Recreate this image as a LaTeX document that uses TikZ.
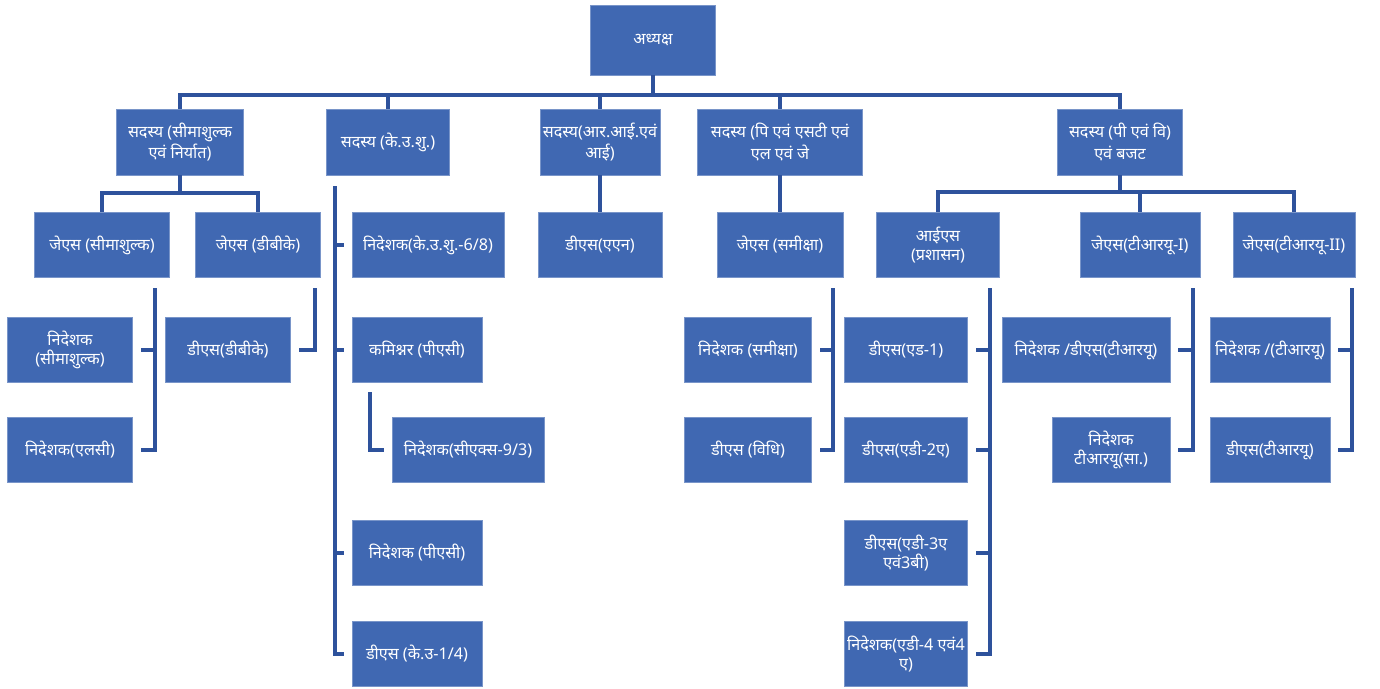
\documentclass[tikz,border=0pt]{standalone}
\usepackage{fontspec}
\newfontfamily\hindi[Script=Devanagari]{Noto Sans}
\definecolor{boxblue}{RGB}{64,104,178}
\definecolor{lineblue}{RGB}{46,82,156}

\begin{document}
\begin{tikzpicture}[x=0.25mm,y=-0.25mm,
  box/.style={fill=boxblue,draw=boxblue!70!white,line width=0.4pt,text=white,align=center,
    font=\hindi\fontsize{11.5}{14}\selectfont,minimum height=16.25mm,inner sep=0.5mm},
  head/.style={box,font=\hindi\bfseries\fontsize{11.5}{15}\selectfont,minimum height=16.5mm},
  wd/.style={minimum width=#1*0.25mm},
  link/.style={lineblue,line width=1mm},
  side/.style={link,shorten >=2mm}]
\useasboundingbox (0,0) rectangle (1380,688);
% top
\node[head,wd=125,minimum height=17.5mm] (top) at (653,40) {अध्यक्ष};
\node[head,wd=127] (A) at (180,142) {सदस्य (सीमाशुल्क\\एवं निर्यात)};
\node[head,wd=123] (B) at (388,142) {सदस्य (के.उ.शु.)};
\node[head,wd=120] (C) at (600,142) {सदस्य(आर.आई.एवं\\आई)};
\node[head,wd=165] (D) at (780,142) {सदस्य (पि एवं एसटी एवं\\एल एवं जे};
\node[head,wd=125] (E) at (1120,142) {सदस्य (पी एवं वि)\\एवं बजट};
% second row
\node[box,wd=135] (A1) at (102,245) {जेएस (सीमाशुल्क)};
\node[box,wd=125] (A2) at (258,245) {जेएस (डीबीके)};
\node[box,wd=152] (B1) at (428,245) {निदेशक(के.उ.शु.-6/8)};
\node[box,wd=124] (C1) at (600,245) {डीएस(एएन)};
\node[box,wd=126] (D1) at (780,245) {जेएस (समीक्षा)};
\node[box,wd=123] (E1) at (938,245) {आईएस\\(प्रशासन)};
\node[box,wd=120] (E2) at (1140,245) {जेएस(टीआरयू-I)};
\node[box,wd=122] (E3) at (1294,245) {जेएस(टीआरयू-II)};
% third row
\node[box,wd=125] (A11) at (70,350) {निदेशक\\(सीमाशुल्क)};
\node[box,wd=125] (A21) at (228,350) {डीएस(डीबीके)};
\node[box,wd=130] (B2) at (417,350) {कमिश्नर (पीएसी)};
\node[box,wd=127] (D11) at (748,350) {निदेशक (समीक्षा)};
\node[box,wd=123] (E11) at (906,350) {डीएस(एड-1)};
\node[box,wd=168] (E21) at (1086,350) {निदेशक /डीएस(टीआरयू)};
\node[box,wd=120] (E31) at (1270,350) {निदेशक /(टीआरयू)};
% fourth row
\node[box,wd=125] (A12) at (70,450) {निदेशक(एलसी)};
\node[box,wd=152] (B21) at (468,450) {निदेशक(सीएक्स-9/3)};
\node[box,wd=127] (D12) at (748,450) {डीएस (विधि)};
\node[box,wd=123] (E12) at (906,450) {डीएस(एडी-2ए)};
\node[box,wd=118] (E22) at (1111,450) {निदेशक\\टीआरयू(सा.)};
\node[box,wd=120] (E32) at (1270,450) {डीएस(टीआरयू)};
% lower rows
\node[box,wd=130] (B3) at (417,553) {निदेशक (पीएसी)};
\node[box,wd=123] (E13) at (906,553) {डीएस(एडी-3ए\\एवं3बी)};
\node[box,wd=130] (B4) at (417,654) {डीएस (के.उ-1/4)};
\node[box,wd=123] (E14) at (906,654) {निदेशक(एडी-4 एवं4\\ए)};

\coordinate (bus) at (653,95);
\coordinate (busA) at (180,193);
\coordinate (busE) at (1120,192);
\coordinate (jA1) at (155,288);
\coordinate (jA2) at (315,288);
\coordinate (jB) at (335,186);
\coordinate (jB2) at (370,392);
\coordinate (jD1) at (833,288);
\coordinate (jE1) at (990,288);
\coordinate (jE2) at (1193,288);
\coordinate (jE3) at (1352,288);

\draw[link] (top) -- (bus);
\foreach \n in {A,B,C,D,E} \draw[link] (bus) -| (\n.north);
\draw[link] (A) -- (busA);
\foreach \n in {A1,A2} \draw[link] (busA) -| (\n.north);
\draw[link] (E) -- (busE);
\foreach \n in {E1,E2,E3} \draw[link] (busE) -| (\n.north);
\draw[link] (C) -- (C1);
\draw[link] (D) -- (D1);
\foreach \n in {A11,A12} \draw[side] (jA1) |- (\n.east);
\draw[side] (jA2) |- (A21.east);
\foreach \n in {B1,B2,B3,B4} \draw[side] (jB) |- (\n.west);
\draw[side] (jB2) |- (B21.west);
\foreach \n in {D11,D12} \draw[side] (jD1) |- (\n.east);
\foreach \n in {E11,E12,E13,E14} \draw[side] (jE1) |- (\n.east);
\foreach \n in {E21,E22} \draw[side] (jE2) |- (\n.east);
\foreach \n in {E31,E32} \draw[side] (jE3) |- (\n.east);
\end{tikzpicture}
\end{document}
